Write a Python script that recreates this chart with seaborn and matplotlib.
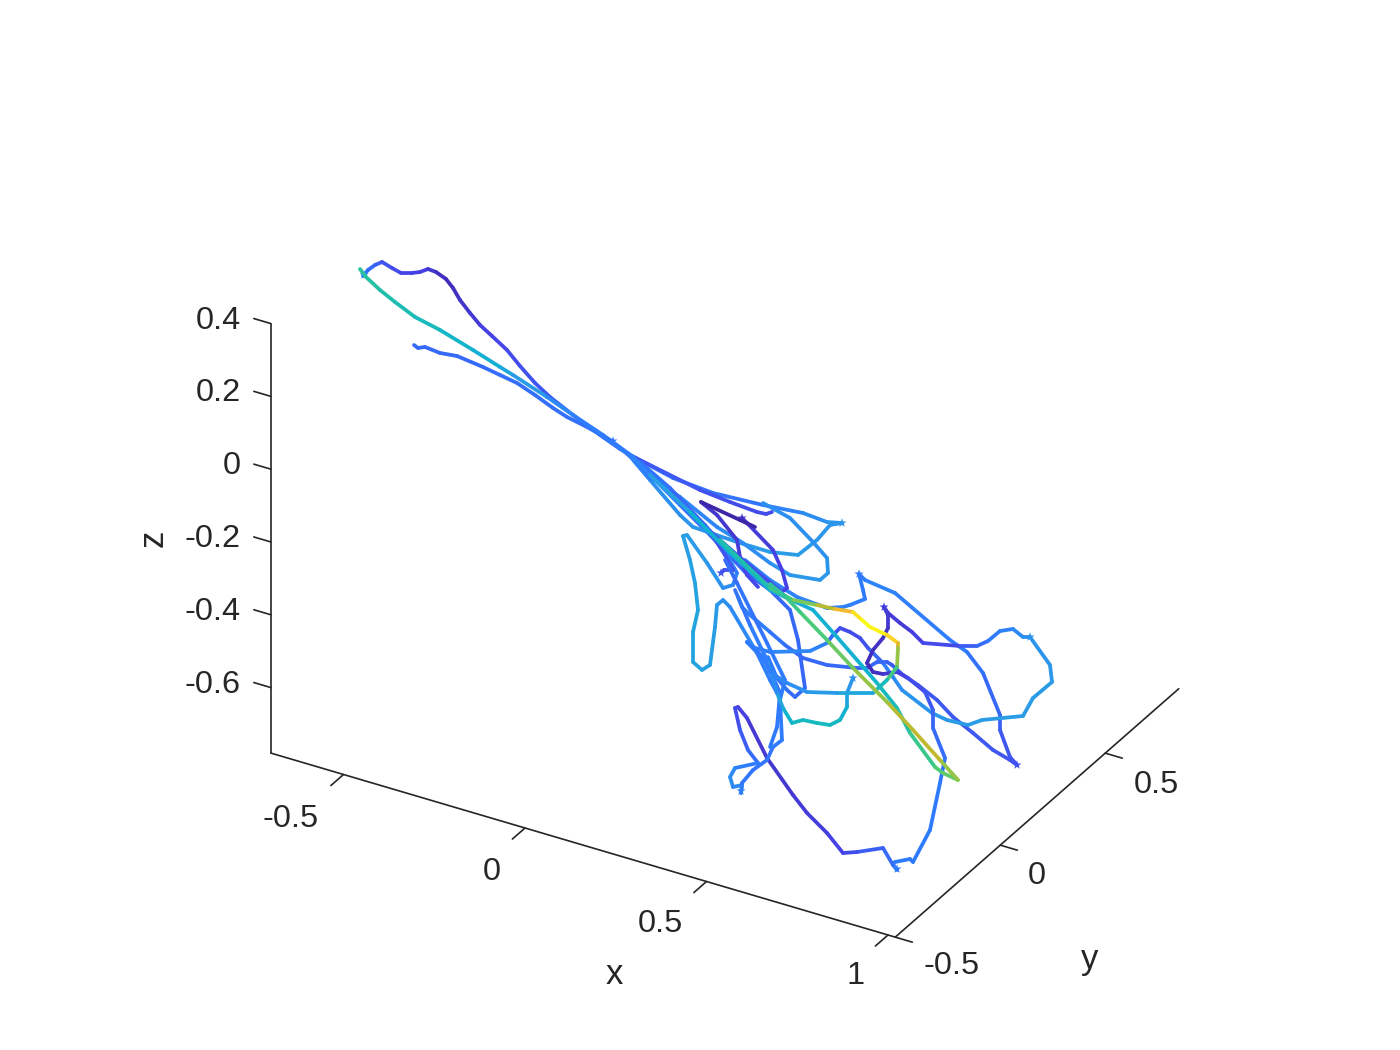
import numpy as np
import pandas as pd
import seaborn as sns
import matplotlib.pyplot as plt
from matplotlib.colors import LinearSegmentedColormap, to_hex

# axis values
x_ticks = [-0.5, 0, 0.5, 1]
y_ticks = [-0.5, 0, 0.5]
z_ticks = [0.4, 0.2, 0, -0.2, -0.4, -0.6]
x_tick_labels = ["-0.5", "0", "0.5", "1"]
y_tick_labels = ["-0.5", "0", "0.5"]
z_tick_labels = ["0.4", "0.2", "0", "-0.2", "-0.4", "-0.6"]
x_range = [-0.7, 1.02]
y_range = [-0.5, 0.85]
z_range = [-0.78, 0.4]

# traces as seen on screen: (across, down, speed)
trace_top_dark = [(363, 276, .2), (368, 270, .18), (375, 265, .16), (382, 262, .14), (392, 268, .12),
                  (401, 273, .11), (412, 273, .1), (420, 272, .1), (428, 269, .08), (436, 272, .05),
                  (446, 279, .03), (453, 288, .03), (460, 300, .05), (470, 313, .06), (480, 325, .08),
                  (492, 336, .1), (507, 350, .11), (520, 366, .12), (535, 383, .13), (550, 397, .14),
                  (573, 415, .16), (600, 435, .18), (620, 449, .2), (632, 456, .2)]
trace_left_blue = [(414, 345, .17), (418, 348, .17), (425, 347, .17), (440, 353, .17), (457, 356, .17),
                   (483, 367, .17), (500, 375, .18), (517, 383, .18), (535, 395, .18), (553, 408, .18),
                   (567, 417, .18), (587, 427, .18), (610, 440, .2), (625, 452, .2),
                   (650, 475, .2), (680, 505, .2), (710, 535, .18), (745, 572, .15), (770, 590, .17),
                   (790, 610, .17), (798, 640, .17), (805, 688, .17), (795, 697, .17), (787, 690, .18),
                   (777, 678, .2), (768, 657, .2)]
trace_upper_loop = [(632, 456, .2), (673, 478, .18), (713, 493, .18), (763, 505, .2), (803, 513, .24),
                    (827, 522, .27), (842, 523, .28), (830, 525, .28), (817, 540, .28), (798, 555, .3),
                    (770, 552, .3), (740, 543, .28), (693, 527, .27), (680, 515, .27), (650, 480, .25),
                    (633, 460, .22)]
trace_short_hook = [(632, 456, .15), (700, 490, .13), (730, 502, .12), (757, 512, .12), (766, 514, .12), (772, 512, .12)]
trace_upper_fold = [(763, 503, .25), (790, 518, .26), (813, 542, .26), (827, 558, .27), (828, 573, .28),
                    (820, 580, .29), (790, 575, .28), (770, 563, .26), (743, 543, .25), (717, 527, .24),
                    (680, 497, .22), (650, 477, .2), (636, 461, .2)]
trace_darkest = [(701, 502, .0), (740, 520, .0), (755, 527, .0)]
trace_dark_bend = [(742, 518, .06), (747, 523, .07), (773, 550, .09), (782, 570, .1), (787, 588, .1),
                   (782, 592, .1), (763, 577, .12), (743, 560, .13), (720, 540, .14), (700, 522, .15)]
trace_dark_drop = [(701, 502, .05), (717, 515, .06), (737, 540, .07), (740, 557, .09), (747, 575, .1), (758, 587, .12)]
trace_left_cyan = [(683, 536, .3), (690, 560, .31), (695, 583, .32), (698, 610, .33), (693, 632, .33),
                   (693, 662, .33), (702, 670, .32), (710, 665, .31), (715, 627, .3), (717, 605, .28),
                   (723, 600, .27), (730, 607, .25), (757, 653, .23), (770, 680, .2), (777, 693, .2)]
trace_left_fold = [(683, 536, .3), (687, 535, .3), (707, 563, .28), (723, 588, .26), (733, 585, .24),
                   (737, 573, .22), (720, 543, .2), (705, 525, .2), (670, 492, .2), (640, 462, .2)]
trace_small_hook = [(721, 573, .13), (724, 570, .13), (733, 570, .13), (725, 555, .13), (712, 535, .13),
                    (700, 520, .15), (670, 488, .18), (640, 462, .2)]
trace_narrow_loop = [(738, 597, .25), (742, 607, .24), (750, 615, .22), (770, 632, .2), (785, 645, .18),
                     (803, 658, .17), (827, 665, .17), (857, 668, .17), (867, 668, .17), (877, 662, .17),
                     (887, 662, .16), (892, 665, .15), (903, 675, .14), (918, 685, .14), (937, 700, .14),
                     (953, 717, .14), (973, 733, .14), (993, 750, .14), (1010, 760, .13), (1017, 765, .13),
                     (1010, 757, .13), (1000, 730, .15), (1000, 715, .16), (983, 673, .18), (967, 652, .2),
                     (950, 640, .2), (895, 593, .22), (865, 580, .22), (859, 574, .2), (863, 590, .2),
                     (865, 599, .2), (850, 605, .22), (843, 607, .22), (827, 608, .23), (797, 597, .22),
                     (770, 580, .22), (745, 560, .2)]
trace_right_big = [(884, 607, .1), (888, 613, .08), (900, 623, .07), (912, 632, .08), (923, 643, .1),
                   (960, 646, .13), (977, 646, .16), (988, 641, .19), (1000, 631, .21), (1013, 629, .23),
                   (1023, 637, .25), (1030, 637, .26), (1050, 665, .28), (1052, 682, .29), (1033, 698, .3),
                   (1023, 716, .3), (982, 720, .3), (968, 725, .3), (947, 720, .29), (932, 713, .28),
                   (902, 690, .26), (893, 677, .24), (883, 663, .2), (868, 648, .14), (860, 638, .12),
                   (850, 632, .11), (840, 628, .12), (833, 635, .14), (827, 643, .2), (810, 651, .25),
                   (770, 652, .22), (755, 648, .2), (747, 642, .2), (767, 663, .2), (780, 693, .2),
                   (777, 727, .2), (770, 747, .2)]
trace_lower_big = [(884, 607, .08), (888, 615, .07), (888, 628, .05), (883, 638, .05), (873, 650, .04),
                   (867, 663, .03), (873, 672, .03), (883, 674, .05), (897, 672, .08), (908, 678, .1),
                   (925, 692, .13), (933, 710, .15), (933, 728, .17), (945, 758, .18), (940, 783, .2),
                   (930, 830, .2), (913, 862, .2), (910, 859, .2), (895, 862, .2), (893, 865, .2),
                   (897, 870, .2)]
trace_bottom_arc = [(893, 865, .18), (883, 848, .17), (857, 852, .13), (843, 853, .11), (827, 833, .09),
                    (807, 813, .08), (793, 795, .07), (767, 758, .06), (747, 718, .08), (738, 707, .1),
                    (735, 708, .11), (740, 730, .13), (748, 750, .16), (758, 763, .19), (735, 768, .23),
                    (730, 777, .25), (733, 787, .25), (742, 785, .24), (741, 793, .24)]
trace_bottom_rise = [(741, 793, .22), (742, 783, .2), (753, 770, .19), (767, 760, .19), (773, 747, .2),
                     (782, 740, .2), (780, 700, .21), (785, 680, .2), (767, 643, .2), (737, 583, .18), (725, 560, .17)]
trace_teal = [(853, 678, .24), (847, 693, .32), (847, 707, .36), (840, 720, .42), (830, 725, .45),
              (817, 723, .44), (803, 720, .44), (792, 723, .43), (783, 708, .38), (777, 693, .28),
              (767, 660, .22), (750, 625, .2), (735, 590, .18)]
trace_yellow = [(720, 540, .45), (770, 588, .52), (793, 600, .62), (817, 605, .72), (835, 609, .85),
                (853, 612, .92), (862, 620, 1.0), (870, 627, 1.0), (887, 635, .97), (898, 643, .9),
                (898, 648, .78), (897, 667, .65), (887, 680, .52), (873, 693, .38), (837, 693, .3),
                (807, 692, .28), (787, 683, .25), (770, 672, .22), (763, 657, .2), (747, 642, .2)]
trace_long_green = [(360, 269, .52), (366, 277, .52), (380, 290, .5), (395, 302, .48), (415, 317, .46),
                    (440, 330, .44), (473, 350, .4), (500, 367, .36), (513, 375, .32),
                    (547, 397, .26), (573, 415, .22), (603, 435, .2), (632, 456, .2),
                    (650, 475, .25), (690, 512, .38), (725, 548, .42), (770, 590, .36), (813, 610, .38),
                    (837, 637, .38), (857, 660, .38), (877, 683, .42), (897, 708, .48), (910, 733, .52),
                    (935, 767, .6), (943, 773, .62), (958, 780, .65)]
trace_long_olive = [(958, 780, .65), (940, 760, .78), (913, 730, .8), (887, 702, .75), (853, 668, .68),
                    (827, 640, .62), (800, 612, .58), (785, 596, .55), (770, 584, .52)]

traces = [trace_top_dark, trace_left_blue, trace_upper_loop, trace_short_hook, trace_upper_fold,
          trace_left_fold, trace_small_hook, trace_narrow_loop, trace_right_big, trace_lower_big,
          trace_bottom_arc, trace_bottom_rise, trace_left_cyan, trace_teal, trace_dark_bend, trace_dark_drop,
          trace_long_green, trace_yellow, trace_long_olive, trace_darkest]

# the little knots where a trace stops
knot_across = [364, 613, 842, 1017, 859, 884, 897, 741, 1030, 742, 721, 853]
knot_down = [275, 441, 523, 765, 574, 607, 869, 791, 637, 518, 573, 678]
knot_speed = [.3, .2, .28, .13, .2, .1, .2, .24, .26, .05, .13, .24]

parula = LinearSegmentedColormap.from_list("parula", [
    (0.0, "#3e26a8"), (0.1, "#4743e8"), (0.2, "#2f7bff"), (0.3, "#2a9ee6"), (0.4, "#0eb4cf"),
    (0.5, "#22c0a8"), (0.6, "#48cb7a"), (0.7, "#8cc84c"), (0.8, "#c4b82a"), (0.9, "#fcb92e"), (1.0, "#f9fb15")])


def project(x, y, z):
    # same oblique view as the original 3d axes
    px = 525 + 363 * x + 210 * (y + 0.5)
    py = 828 + 107 * x - 184 * (y + 0.5) - 364 * (z - z_range[0])
    return px, py


def draw_frame(ax):
    edge = "#262626"
    lines = [
        (project(x_range[0], y_range[0], z_range[0]), project(x_range[0], y_range[0], z_range[1])),
        (project(x_range[0], y_range[0], z_range[0]), project(x_range[1], y_range[0], z_range[0])),
        (project(x_range[1], y_range[0], z_range[0]), project(x_range[1], y_range[1], z_range[0])),
    ]
    for z in z_ticks:
        lines.append((project(x_range[0], y_range[0], z), project(x_range[0] - 0.047, y_range[0], z)))
    for x in x_ticks:
        lines.append((project(x, y_range[0], z_range[0]), project(x, y_range[0] - 0.06, z_range[0])))
    for y in y_ticks:
        lines.append((project(x_range[1], y, z_range[0]), project(x_range[1] + 0.047, y, z_range[0])))
    for a, b in lines:
        sns.lineplot(x=[a[0], b[0]], y=[a[1], b[1]], color=edge, lw=0.6, sort=False, estimator=None, ax=ax)


def trace_table():
    rows = []
    seg = 0
    for tr in traces:
        for a, b in zip(tr[:-1], tr[1:]):
            rows.append((seg, a[0], a[1], (a[2] + b[2]) / 2))
            rows.append((seg, b[0], b[1], (a[2] + b[2]) / 2))
            seg += 1
    return pd.DataFrame(rows, columns=["seg", "across", "down", "speed"])


sns.set_theme(style="white")
plt.rcParams["font.family"] = ["Liberation Sans", "DejaVu Sans"]

fig = plt.figure(figsize=(7, 5.25), dpi=200)
ax = fig.add_axes([0, 0, 1, 1])

draw_frame(ax)

df = trace_table()
colors = df.groupby("seg")["speed"].first().map(lambda v: to_hex(parula(v))).to_dict()
sns.lineplot(data=df, x="across", y="down", hue="seg", palette=colors, sort=False, estimator=None,
             legend=False, lw=1.35, solid_capstyle="round", solid_joinstyle="round", ax=ax)
sns.scatterplot(x=knot_across, y=knot_down, color=[parula(v) for v in knot_speed], s=12, marker="*",
                linewidth=0, ax=ax)

text_color = "#262626"
fs = 11.7
for z, lab in zip(z_ticks, z_tick_labels):
    ax.text(241, project(x_range[0], y_range[0], z)[1] - 3, lab, ha="right", va="center", fontsize=fs, color=text_color)
for xp, yp, lab in zip([291, 492, 660, 856], [819, 872, 924, 976], x_tick_labels):
    ax.text(xp, yp, lab, ha="center", va="center", fontsize=fs, color=text_color)
for xp, yp, lab in zip([952, 1037, 1156], [966, 876, 785], y_tick_labels):
    ax.text(xp, yp, lab, ha="center", va="center", fontsize=fs, color=text_color)
ax.text(614, 974, "x", ha="center", va="center", fontsize=12.5, color=text_color)
ax.text(1090, 959, "y", ha="center", va="center", fontsize=12.5, color=text_color)
ax.text(153, 538, "z", ha="center", va="center", rotation=90, fontsize=12.5, color=text_color)

ax.set_xlim(0, 1400)
ax.set_ylim(1050, 0)
ax.set_axis_off()

plt.savefig("out.png", dpi=200)
plt.close()
